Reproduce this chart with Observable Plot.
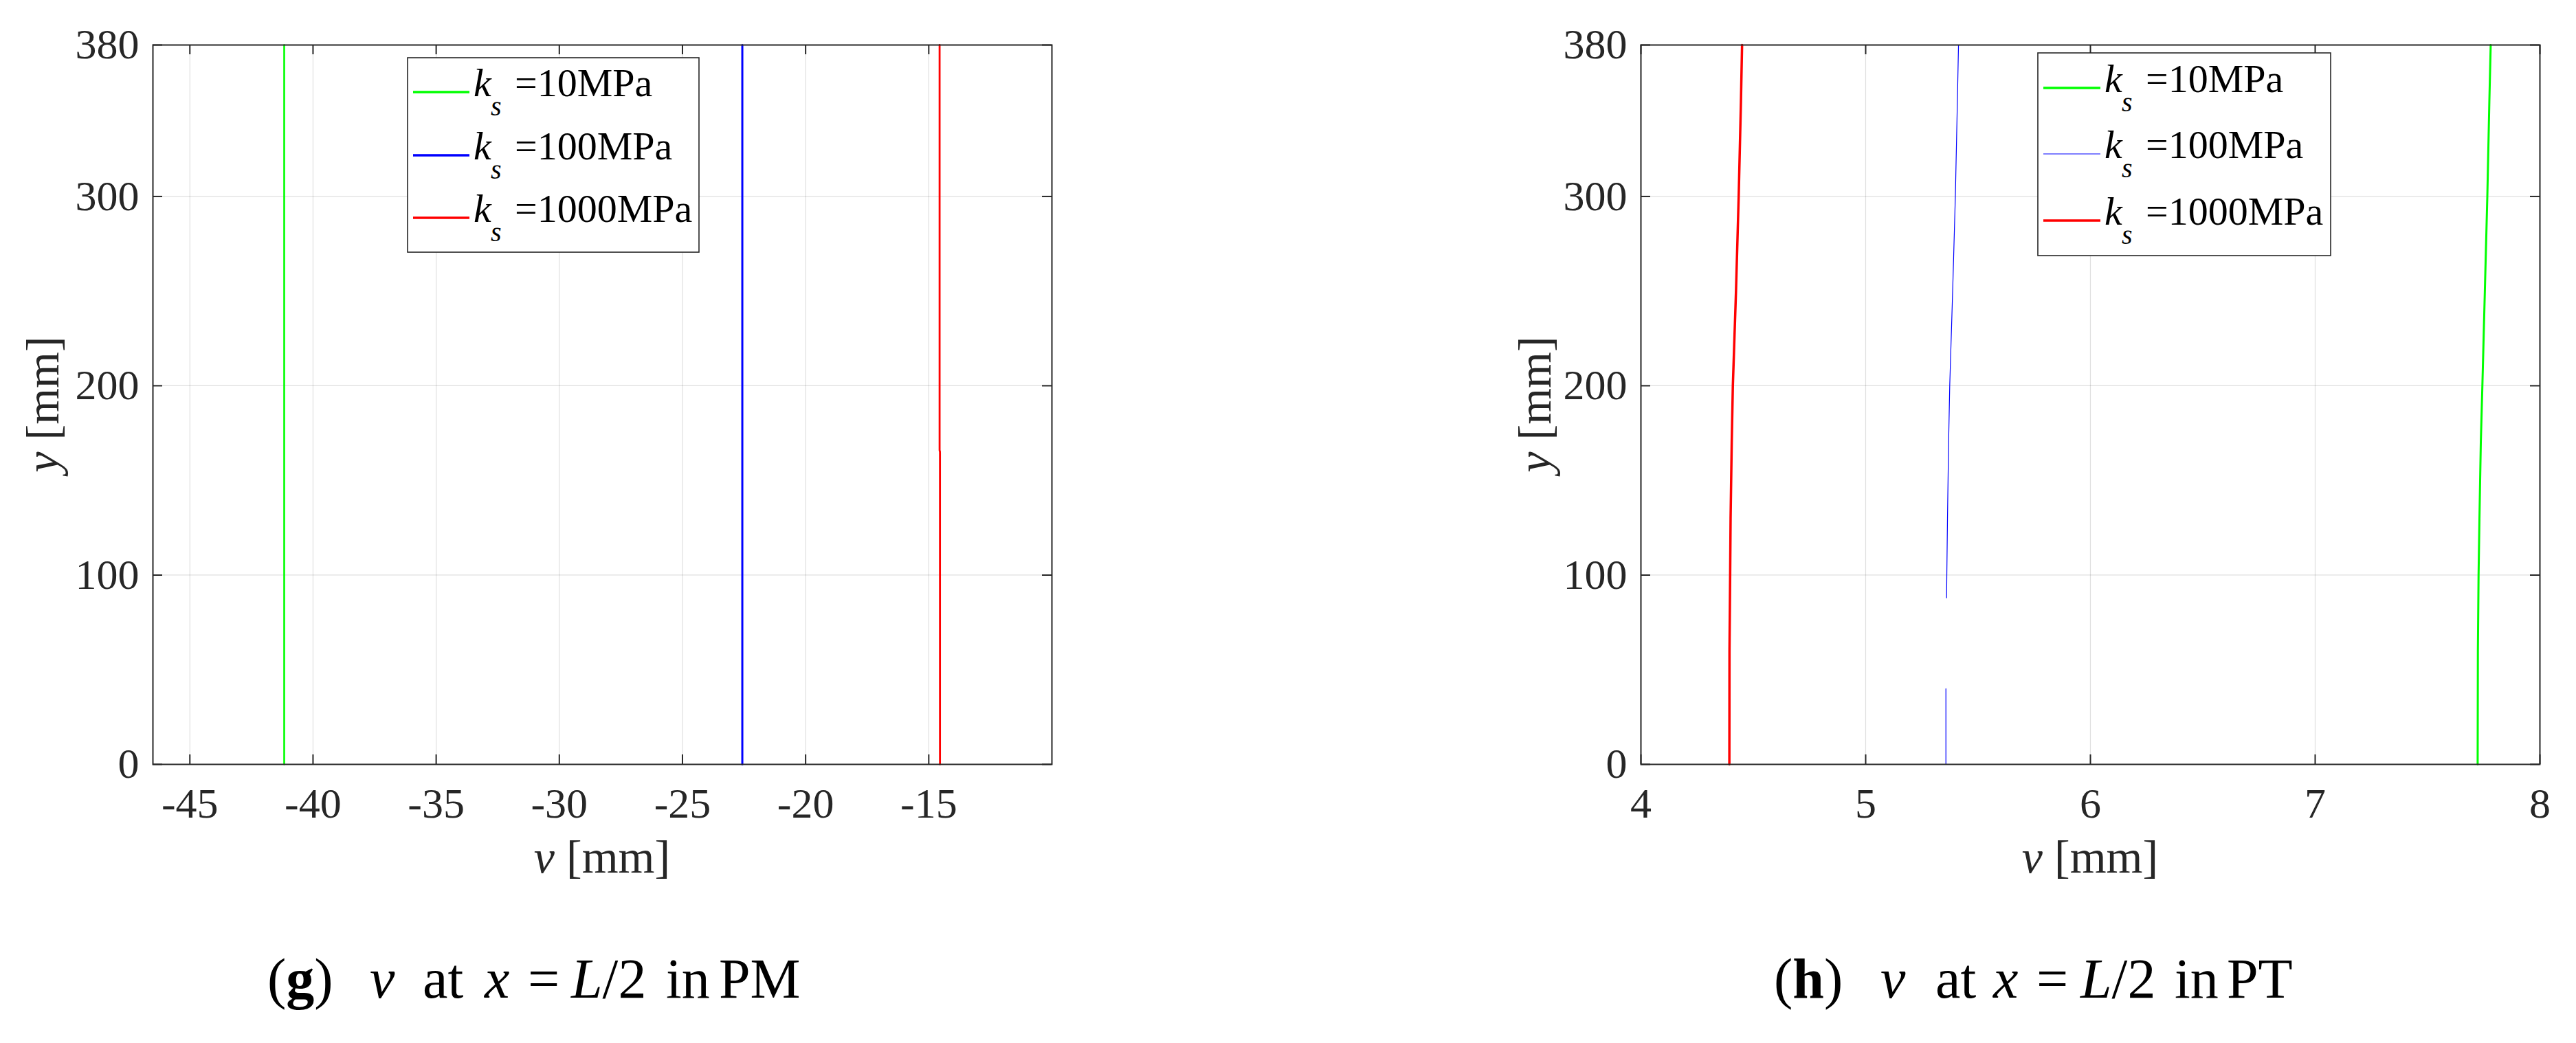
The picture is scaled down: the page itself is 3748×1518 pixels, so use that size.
<!DOCTYPE html>
<html><head><meta charset="utf-8">
<script src="https://cdn.jsdelivr.net/npm/d3@7"></script>
<script src="https://cdn.jsdelivr.net/npm/@observablehq/plot@0.6"></script>
<style>
html,body{margin:0;padding:0;background:#fff;}
#fig{position:relative;width:3748px;height:1518px;background:#fff;overflow:hidden;}
.panel{position:absolute;top:0;}
.panel text{font-family:'Liberation Serif','Times New Roman',serif;}
#overlay{position:absolute;left:0;top:0;}
</style></head><body><div id="fig"></div>
<script>
// ---------------- data ----------------
const seriesNames = ["10MPa", "100MPa", "1000MPa"];
const seriesColors = ["#00ff00", "#0000ff", "#ff0000"];

// (g) PM panel
const yPM = [0, 100, 165, 166, 200, 300, 380];
const vPM10 = [-41.17, -41.17, -41.17, -41.17, -41.17, -41.17, -41.17];
const vPM100 = [-22.57, -22.57, -22.57, -22.57, -22.57, -22.57, -22.57];
const vPM1000 = [-14.545, -14.545, -14.545, -14.56, -14.56, -14.56, -14.56];
const xTicksPM = [-45, -40, -35, -30, -25, -20, -15];
const xDomainPM = [-46.5, -10];

// (h) PT panel
const yPT = [0, 60, 100, 130, 170, 200, 250, 300, 350, 380];
const vPT10 = [7.723, 7.724, 7.727, 7.731, 7.737, 7.744, 7.755, 7.766, 7.775, 7.781];
const vPT1000 = [4.3935, 4.394, 4.397, 4.399, 4.404, 4.409, 4.423, 4.435, 4.445, 4.450];
const yPT100 = [0, 40, 64, 88, 100, 130, 170, 200, 250, 300, 350, 380];
const vPT100 = [5.357, 5.357, NaN, 5.360, 5.361, 5.364, 5.369, 5.374, 5.387, 5.399, 5.408, 5.413];
const xTicksPT = [4, 5, 6, 7, 8];
const xDomainPT = [4, 8];

const yTicks = [0, 100, 200, 300, 380];
const yDomain = [0, 380];

// ---------------- layout ----------------
const FONT = "'Liberation Serif','Times New Roman',serif";
const W = 1600, H = 1300, mL = 222, mR = 70, mT = 65, mB = 188;
const iw = W - mL - mR, ih = H - mT - mB;
const AX = "#262626";

const rows = (ys, vs) => ys.map((y, i) => ({y, v: vs[i]}));

function panel({xDomain, xTicks, series}) {
  const tk = {stroke: AX, strokeWidth: 2};
  return Plot.plot({
    width: W, height: H,
    marginLeft: mL, marginRight: mR, marginTop: mT, marginBottom: mB,
    style: {fontFamily: FONT, fontSize: "62px", color: AX, background: "transparent", overflow: "visible"},
    x: {domain: xDomain},
    y: {domain: yDomain},
    marks: [
      Plot.gridX(xTicks, {stroke: AX, strokeOpacity: 0.15, strokeWidth: 1.2}),
      Plot.gridY(yTicks, {stroke: AX, strokeOpacity: 0.15, strokeWidth: 1.2}),
      ...series.map(s => Plot.line(s.data, {x: "v", y: "y", stroke: s.color, strokeWidth: s.width})),
      Plot.tickX(xTicks, {x: d => d, insetTop: ih - 14, ...tk}),
      Plot.tickX(xTicks, {x: d => d, insetBottom: ih - 14, ...tk}),
      Plot.tickY(yTicks, {y: d => d, insetRight: iw - 14, ...tk}),
      Plot.tickY(yTicks, {y: d => d, insetLeft: iw - 14, ...tk}),
      Plot.frame({stroke: AX, strokeWidth: 2}),
      Plot.axisX(xTicks, {anchor: "bottom", tickSize: 0, tickPadding: 33, label: null, fontSize: 62, fontFamily: FONT, fill: AX, tickFormat: d => String(d)}),
      Plot.axisY(yTicks, {anchor: "left", tickSize: 0, tickPadding: 20, label: null, fontSize: 62, fontFamily: FONT, fill: AX, tickFormat: d => String(d)})
    ]
  });
}

const fig = document.getElementById("fig");

const leftSeries = [
  {data: rows(yPM, vPM10), color: seriesColors[0], width: 2.6},
  {data: rows(yPM, vPM100), color: seriesColors[1], width: 3},
  {data: rows(yPM, vPM1000), color: seriesColors[2], width: 2.8}
];
const rightSeries = [
  {data: rows(yPT, vPT10), color: seriesColors[0], width: 3},
  {data: rows(yPT100, vPT100), color: seriesColors[1], width: 1.2},
  {data: rows(yPT, vPT1000), color: seriesColors[2], width: 3.5}
];

const p1 = panel({xDomain: xDomainPM, xTicks: xTicksPM, series: leftSeries});
p1.classList.add("panel"); p1.style.left = "0px";
fig.appendChild(p1);
const OFF2 = 2165;
const p2 = panel({xDomain: xDomainPT, xTicks: xTicksPT, series: rightSeries});
p2.classList.add("panel"); p2.style.left = OFF2 + "px";
fig.appendChild(p2);

// ---------------- overlay: axis labels, legends, captions ----------------
const svg = d3.select(fig).append("svg").attr("id", "overlay")
  .attr("width", 3748).attr("height", 1518)
  .style("font-family", FONT).attr("fill", "#000");

function axisLabels(plotLeft, yLabelX) {
  const cx = plotLeft + iw / 2;
  const t = svg.append("text").attr("x", cx).attr("y", 1270).attr("text-anchor", "middle")
    .attr("font-size", 68).attr("fill", AX).attr("xml:space", "preserve");
  t.append("tspan").attr("font-style", "italic").text("v");
  t.append("tspan").text(" [mm]");
  const u = svg.append("text").attr("transform", `translate(${yLabelX},${mT + ih / 2}) rotate(-90)`)
    .attr("text-anchor", "middle").attr("font-size", 68).attr("fill", AX).attr("xml:space", "preserve");
  u.append("tspan").attr("font-style", "italic").text("y");
  u.append("tspan").text(" [mm]");
}
axisLabels(mL, 85);
axisLabels(OFF2 + mL, OFF2 + 91);

function legend({x0, y0, w, h, rowYs, sx0, sx1, kx, widths}) {
  svg.append("rect").attr("x", x0).attr("y", y0).attr("width", w).attr("height", h)
    .attr("fill", "#fff").attr("stroke", AX).attr("stroke-width", 1.6);
  seriesNames.forEach((name, i) => {
    const ly = rowYs[i];
    svg.append("line").attr("x1", sx0).attr("x2", sx1).attr("y1", ly).attr("y2", ly)
      .attr("stroke", seriesColors[i]).attr("stroke-width", widths[i]);
    svg.append("text").attr("x", kx).attr("y", ly + 6).attr("font-size", 58)
      .attr("font-style", "italic").text("k");
    svg.append("text").attr("x", kx + 25).attr("y", ly + 34).attr("font-size", 40)
      .attr("font-style", "italic").text("s");
    svg.append("text").attr("x", kx + 60).attr("y", ly + 6).attr("font-size", 58)
      .text("=" + name);
  });
}
legend({x0: 593, y0: 84, w: 424, h: 283, rowYs: [134, 226, 317], sx0: 601, sx1: 683, kx: 689, widths: [3.5, 3.5, 3.5]});
legend({x0: 2965, y0: 77, w: 426, h: 295, rowYs: [128, 224, 321], sx0: 2973, sx1: 3056, kx: 3062, widths: [3.5, 1.2, 3.5]});

function caption(pieces, letter) {
  const base = 1452, fs = 82;
  pieces.forEach(([txt, x, style]) => {
    const t = svg.append("text").attr("x", x).attr("y", base).attr("font-size", fs).attr("fill", "#000");
    if (style === "label") {
      t.append("tspan").text("(");
      t.append("tspan").attr("font-weight", "bold").text(letter);
      t.append("tspan").text(")");
    } else if (style === "L") {
      t.append("tspan").attr("font-style", "italic").text("L");
      t.append("tspan").text("/2");
    } else {
      if (style === "i") t.attr("font-style", "italic");
      t.text(txt);
    }
  });
}
caption([["", 389, "label"], ["v", 538, "i"], ["at", 615], ["x", 705, "i"], ["=", 768], ["", 831, "L"], ["in", 969], ["PM", 1046]], "g");
caption([["", 2581, "label"], ["v", 2736, "i"], ["at", 2816], ["x", 2900, "i"], ["=", 2963], ["", 3027, "L"], ["in", 3164], ["PT", 3240]], "h");
</script></body></html>
